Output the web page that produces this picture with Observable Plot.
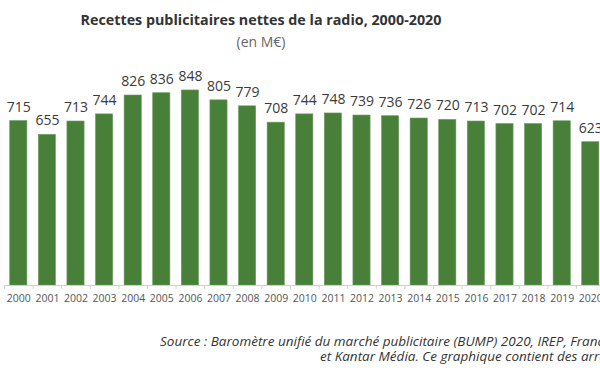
<!DOCTYPE html>
<html><head><meta charset="utf-8">
<script src="https://cdn.jsdelivr.net/npm/d3@7"></script>
<script src="https://cdn.jsdelivr.net/npm/@observablehq/plot@0.6"></script>
<style>
html,body{margin:0;padding:0;background:#fff;overflow:hidden;}
#wrap{position:relative;width:600px;height:372px;overflow:hidden;font-family:"Open Sans",sans-serif;}
#title{position:absolute;left:0;width:522px;top:10px;text-align:center;font-weight:bold;font-size:14.3px;color:#333;white-space:nowrap;}
#sub{position:absolute;left:0;width:522px;top:32px;text-align:center;font-size:14px;color:#666;}
#chart{position:absolute;left:0;top:55px;width:620px;}
#chart svg{max-width:none !important;}
.src{position:absolute;font-style:italic;font-size:13.5px;line-height:15px;color:#333;white-space:nowrap;}
</style></head>
<body><div id="wrap">
<div id="title">Recettes publicitaires nettes de la radio, 2000-2020</div>
<div id="sub">(en M€)</div>
<div id="chart"></div>
<div class="src" style="left:160px;top:334px">Source : Baromètre unifié du marché publicitaire (BUMP) 2020, IREP, France Pub</div>
<div class="src" style="left:320px;top:349px">et Kantar Média. Ce graphique contient des arrondis.</div>
</div>
<script>
const years = ["2000","2001","2002","2003","2004","2005","2006","2007","2008","2009","2010","2011","2012","2013","2014","2015","2016","2017","2018","2019","2020"];
const values = [715,655,713,744,826,836,848,805,779,708,744,748,739,736,726,720,713,702,702,714,623];
const data = years.map((y, i) => ({year: y, value: values[i]}));
const W = 620, mL = 4, mR = 15.4;
const step = (W - mL - mR) / 21;
const chart = Plot.plot({
  width: W, height: 252,
  marginLeft: mL, marginRight: mR, marginTop: 0, marginBottom: 22,
  style: {fontFamily: "'Open Sans', sans-serif", background: "#fff", maxWidth: "none"},
  x: {domain: years, paddingInner: 0.4, paddingOuter: 0.2, round: false, axis: null},
  y: {domain: [0, 1000], axis: null},
  marks: [
    Plot.barY(data, {x: "year", y: "value", fill: "#48803a", stroke: "#6a9a5c", strokeWidth: 0.6}),
    Plot.ruleY([0], {stroke: "#cfcfcf", strokeWidth: 1}),
    Plot.ruleX(data, {x: "year", y1: 0, y2: 0, dx: -step / 2, insetBottom: -4, stroke: "#cfcfcf"}),
    Plot.text(data, {x: "year", y: "value", text: d => String(d.value), dy: -14, fontSize: 14, fill: "#3a3a3a"}),
    Plot.text(data, {x: "year", y: 0, text: "year", dy: 13, fontSize: 10.5, fill: "#555"})
  ]
});
document.getElementById("chart").appendChild(chart);
</script>
</body></html>
